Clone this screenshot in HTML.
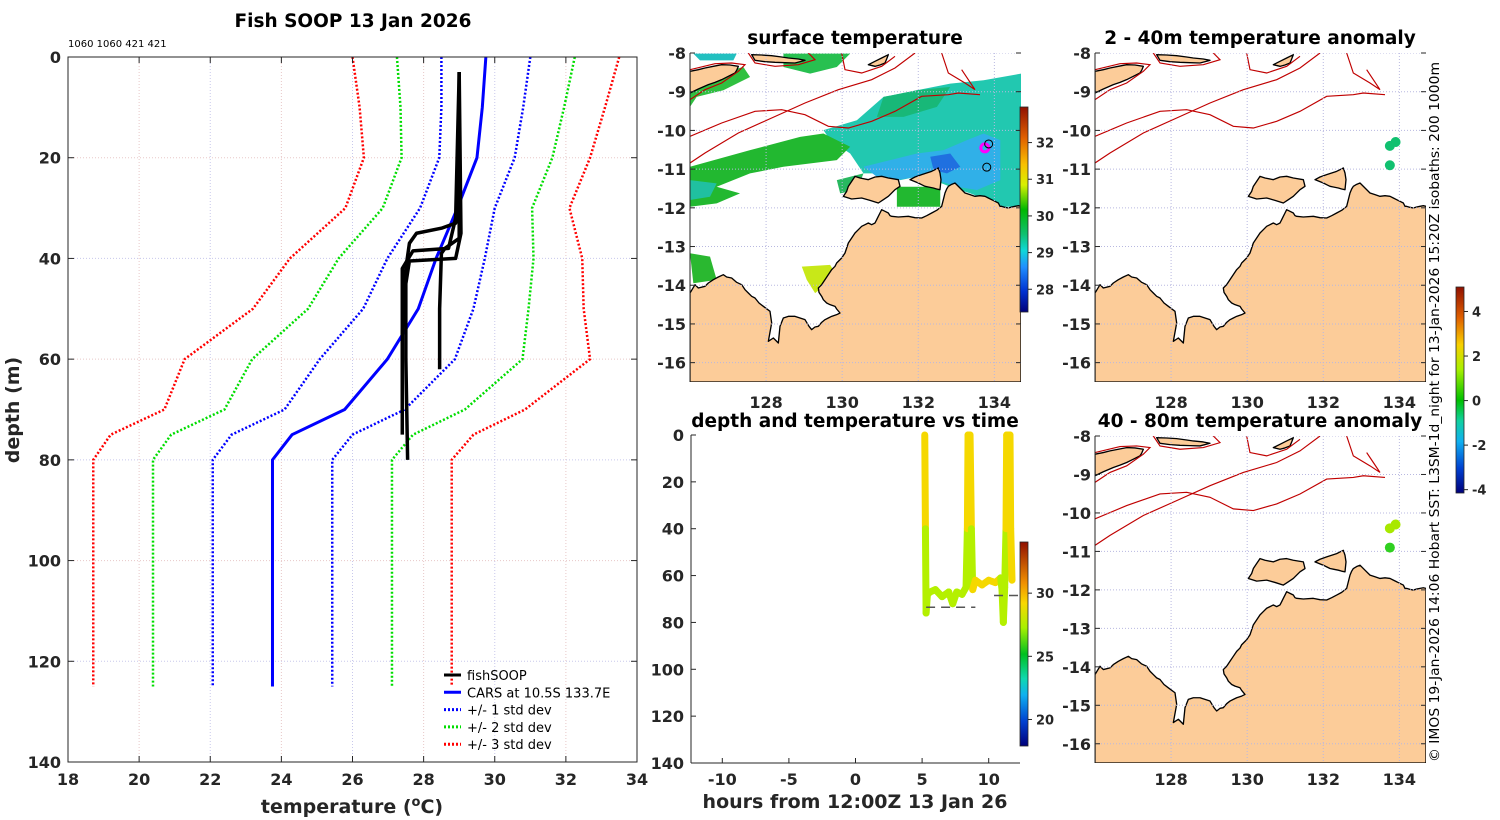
<!DOCTYPE html>
<html><head><meta charset="utf-8">
<style>
html,body{margin:0;padding:0;background:#fff;}
svg{display:block;font-family:"DejaVu Sans","Liberation Sans",sans-serif;}
.t{font-weight:bold;font-size:18.5px;fill:#000;text-anchor:middle;}
.tk{font-weight:bold;font-size:16px;fill:#262626;}
.cb{font-weight:bold;font-size:13px;fill:#262626;}
</style></head>
<body>
<svg id="fig" width="1500" height="820" viewBox="0 0 1500 820" xmlns="http://www.w3.org/2000/svg">
<defs>
<linearGradient id="jetSST" x1="0" y1="1" x2="0" y2="0">
<stop offset="0" stop-color="#00007a"/><stop offset="0.1" stop-color="#0030d0"/><stop offset="0.22" stop-color="#2090ff"/>
<stop offset="0.3" stop-color="#10d8d8"/><stop offset="0.38" stop-color="#10c070"/><stop offset="0.5" stop-color="#00b800"/>
<stop offset="0.62" stop-color="#d8f000"/><stop offset="0.72" stop-color="#f8c000"/><stop offset="0.85" stop-color="#e06000"/><stop offset="1" stop-color="#901000"/>
</linearGradient>
<linearGradient id="jetT" x1="0" y1="1" x2="0" y2="0">
<stop offset="0" stop-color="#00007a"/><stop offset="0.12" stop-color="#0040d0"/><stop offset="0.25" stop-color="#10b0f0"/>
<stop offset="0.33" stop-color="#10d8b0"/><stop offset="0.45" stop-color="#00c020"/><stop offset="0.58" stop-color="#a8f000"/>
<stop offset="0.7" stop-color="#f8d800"/><stop offset="0.8" stop-color="#f09000"/><stop offset="1" stop-color="#901000"/>
</linearGradient>
<linearGradient id="jetA" x1="0" y1="1" x2="0" y2="0">
<stop offset="0" stop-color="#00007a"/><stop offset="0.12" stop-color="#0040d0"/><stop offset="0.25" stop-color="#10b0f0"/>
<stop offset="0.35" stop-color="#10d0a0"/><stop offset="0.45" stop-color="#00c000"/><stop offset="0.6" stop-color="#a8f000"/>
<stop offset="0.72" stop-color="#f8d000"/><stop offset="0.85" stop-color="#e06000"/><stop offset="1" stop-color="#901000"/>
</linearGradient>
</defs>
<g id="root"></g>
</svg>
<script>
// ===== Profile data =====
const carsDepths = [0,10,20,30,40,50,60,70,75,80,125];
const carsMean   = [29.75,29.65,29.5,28.95,28.35,27.85,26.98,25.78,24.3,23.75,23.75];
const carsStd    = [1.25,1.15,1.06,1.05,1.37,1.55,1.9,1.69,1.7,1.68,1.68];
const castATemp = [29.0,29.0,28.9,28.5,27.8,27.6,27.5,27.4,27.4];
const castADep  = [3,30,33,34,35,37,42,55,75];
const castBTemp = [29.0,29.05,28.9,27.6,27.5,27.5,27.55];
const castBDep  = [3,35,40,40.5,45,60,80];
const castCTemp = [29.0,29.0,28.6,28.5,28.45,28.45];
const castCDep  = [3,36,38,39,50,62];
const castDTemp = [29.0,28.9,28.7,27.7,27.4,27.4];
const castDDep  = [3,32,38,38.5,42,70];
const tempTicks = [18,20,22,24,26,28,30,32,34];
const depthTicks = [0,20,40,60,80,100,120,140];
// ===== Time-depth data =====
const tsHours = [5.2,5.25,5.3,5.4,5.6,6.0,6.5,7.0,7.3,7.6,8.0,8.3,8.4,8.45,8.6,8.7,8.8,9.0,9.5,10.0,10.5,10.9,11.0,11.1,11.2,11.3,11.35,11.6,11.65,11.75];
const tsDepth = [0,40,76,68,67,66,69,67,72,67,68,65,40,0,0,40,66,62,64,62,63,61,66,80,65,40,0,0,40,62];
const tsTemp  = [29.6,28.2,28.2,28.2,28.2,28.2,28.2,28.2,28.2,28.2,28.2,28.2,28.2,29.6,29.6,28.2,28.2,29.3,29.3,29.3,29.3,29.3,28.2,28.2,28.2,28.2,29.6,29.6,28.2,29.4];
const hourTicks = [-10,-5,0,5,10];
// ===== Map data =====
const lonTicks = [128,130,132,134];
const latTicks = [-8,-9,-10,-11,-12,-13,-14,-15,-16];
const anomLon1 = [133.75,133.9,133.75];
const anomLat1 = [-10.4,-10.3,-10.9];
const anomVal1 = [-0.6,-0.6,-0.6];
const anomVal2 = [1.0,1.0,0.3];

const NS='http://www.w3.org/2000/svg';
const root=document.getElementById('root');
function el(tag,attrs,parent,txt){const e=document.createElementNS(NS,tag);for(const k in attrs)e.setAttribute(k,attrs[k]);if(txt!==undefined)e.textContent=txt;(parent||root).appendChild(e);return e;}

// ---------- Left profile panel ----------
const PL=68,PR=637,PT=57,PB=762;
const xT=t=>PL+(t-18)/(34-18)*(PR-PL);
const yD=d=>PT+d/140*(PB-PT);
const gP=el('g',{});


tempTicks.forEach((t,i)=>{ if(i>0&&i<tempTicks.length-1){el('line',{x1:xT(t),x2:xT(t),y1:PT,y2:PB,stroke:i%2?'#e8c8c8':'#c8c8ec','stroke-width':1,'stroke-dasharray':'1,2'},gP);}});
depthTicks.forEach((d,i)=>{ if(i>0&&i<depthTicks.length-1){el('line',{x1:PL,x2:PR,y1:yD(d),y2:yD(d),stroke:i%2?'#e8c8c8':'#c8c8ec','stroke-width':1,'stroke-dasharray':'1,2'},gP);}});
const stdCol={1:'#0000ff',2:'#00dd00',3:'#ff0000'};
[3,2,1].forEach(k=>[1,-1].forEach(s=>{
  const p=el('polyline',{points:carsDepths.map((d,i)=>xT(carsMean[i]+s*k*carsStd[i])+','+yD(d)).join(' '),fill:'none',stroke:stdCol[k],'stroke-width':2.5,'stroke-dasharray':'2,2'},gP);
  
  
}));
const mp=el('polyline',{points:carsDepths.map((d,i)=>xT(carsMean[i])+','+yD(d)).join(' '),fill:'none',stroke:'#0000ff','stroke-width':3},gP);


[[castATemp,castADep],[castBTemp,castBDep],[castCTemp,castCDep],[castDTemp,castDDep]].forEach(c=>{
  const p=el('polyline',{points:c[1].map((d,i)=>xT(c[0][i])+','+yD(d)).join(' '),fill:'none',stroke:'#000','stroke-width':3.5,'stroke-linejoin':'round'},gP);
  
  
});
el('rect',{x:PL,y:PT,width:PR-PL,height:PB-PT,fill:'none',stroke:'#262626','stroke-width':1},gP);
tempTicks.forEach(t=>{el('line',{x1:xT(t),x2:xT(t),y1:PB,y2:PB-6,stroke:'#262626'},gP);el('line',{x1:xT(t),x2:xT(t),y1:PT,y2:PT+6,stroke:'#262626'},gP);
  const l=el('text',{x:xT(t),y:785,class:'tk','text-anchor':'middle'},gP,String(t));});
depthTicks.forEach(d=>{el('line',{x1:PL,x2:PL+6,y1:yD(d),y2:yD(d),stroke:'#262626'},gP);el('line',{x1:PR,x2:PR-6,y1:yD(d),y2:yD(d),stroke:'#262626'},gP);
  const l=el('text',{x:61,y:yD(d)+6,class:'tk','text-anchor':'end'},gP,String(d));});
let tt=el('text',{x:353,y:27,class:'t'},gP,'Fish SOOP 13 Jan 2026');
tt=el('text',{x:68,y:47,'font-size':10,fill:'#000'},gP,'1060 1060 421 421');
tt=el('text',{x:352,y:813,class:'tk','text-anchor':'middle',style:'font-size:19px'},gP);tt.innerHTML='temperature (<tspan dy="-7" style="font-size:13px">o</tspan><tspan dy="7">C)</tspan>';

tt=el('text',{x:0,y:0,class:'tk','text-anchor':'middle',transform:'translate(19,410) rotate(-90)',style:'font-size:19px'},gP,'depth (m)');
// legend
const lg=el('g',{},gP);
const legItems=[['fishSOOP','#000',''],['CARS at 10.5S 133.7E','#0000ff',''],['+/- 1 std dev','#0000ff','2,2'],['+/- 2 std dev','#00dd00','2,2'],['+/- 3 std dev','#ff0000','2,2']];
legItems.forEach((it,i)=>{const y=675+i*17.3;
  el('line',{x1:444,x2:461,y1:y,y2:y,stroke:it[1],'stroke-width':3,'stroke-dasharray':it[2]},lg);
  const tx=el('text',{x:467,y:y+5,'font-size':13,fill:'#000'},lg,it[0]);});

// ---------- Maps ----------
const LON0=126.0,LON1=134.7,LAT0=-8,LAT1=-16.5;
const landMain="M105,800 L105,760 120,735 130,745 150,740 160,730 175,720 190,712 205,705 215,712 230,715 245,728 260,735 270,750 280,760 290,770 300,775 312,790 325,800 345,815 350,850 340,905 355,895 370,910 375,860 385,835 400,830 420,830 435,835 450,840 462,860 470,870 480,862 490,860 500,848 510,840 520,835 530,830 545,825 555,820 545,808 540,800 525,795 515,790 505,780 500,770 492,758 490,745 500,735 510,720 520,705 530,690 540,680 545,670 560,655 570,640 575,625 580,610 590,595 600,580 610,570 620,560 630,555 640,550 650,555 660,550 665,540 670,530 675,520 680,510 690,515 700,520 705,528 710,530 730,532 760,530 780,534 800,535 815,528 830,520 845,512 860,500 865,480 870,460 875,448 880,440 890,434 900,430 915,445 930,460 945,465 960,470 975,468 990,470 1000,475 1010,480 1020,485 1030,490 1035,500 1040,500 1050,503 1060,505 1070,502 1080,500 1090,498 1098,500 1098,1027 105,1027 Z";
const landIsl="M565,470 L575,455 580,440 590,425 600,410 615,415 640,420 660,412 680,410 700,415 730,420 735,440 720,450 700,470 685,480 670,490 645,482 620,475 590,478 Z M765,420 L780,412 800,405 815,400 830,395 840,390 850,385 855,400 858,420 855,450 845,448 835,445 820,442 810,440 800,435 790,430 Z";
const landTimor="M105,95 L130,90 150,85 175,80 200,75 225,76 250,80 245,92 240,100 220,110 200,120 180,128 160,135 130,148 105,160 Z M290,45 L320,46 350,48 380,52 400,55 430,58 450,62 420,70 390,69 360,68 330,66 300,62 Z M640,75 L660,65 680,55 700,45 695,58 690,70 675,76 660,80 Z";
const contours=["M105,290 L200,250 300,215 380,210 450,225 520,260 580,265 650,245 720,215 800,170 880,165 910,160 975,165",
 "M105,370 L150,340 250,280 350,235 450,190 550,150 650,120 720,85 780,40",
 "M105,180 L150,150 200,130 250,95 270,75 230,70 180,72 105,90",
 "M560,40 L570,90 620,100 680,80 720,50",
 "M280,40 L300,70 360,80 430,75 480,60 460,40",
 "M860,40 L880,100 930,130 960,150 940,120 920,90"];
function drawMap(name,ox,oy,w,h,xlabY,sst){
  const g=el('g',{});
  const lx=lon=>ox+(lon-LON0)/(LON1-LON0)*w, ly=lat=>oy+(lat-LAT0)/(LAT1-LAT0)*h;
  const clipId='c'+name;const cp=el('clipPath',{id:clipId},g);el('rect',{x:ox,y:oy,width:w,height:h},cp);
  const inner=el('g',{'clip-path':'url(#'+clipId+')'},g);
  if(sst){
    const s=el('g',{transform:`translate(${ox},${oy}) scale(${w/992},${h/989}) translate(-120,-38)`},inner);
    
    
    el('path',{d:"M520,270 L620,240 700,170 800,150 900,130 1000,120 1112,100 1112,500 1060,500 960,460 900,440 850,420 800,410 750,420 700,400 640,400 600,340 540,300 Z",fill:'#22c8b0'},s);
    el('path',{d:"M640,380 L720,360 800,340 880,330 950,300 1000,280 1050,300 1050,420 980,450 920,440 860,420 800,410 740,420 680,410 Z",fill:'#30b0e8'},s);
    el('path',{d:"M840,350 L900,340 930,380 890,400 850,390 Z",fill:'#2070e0'},s);
    el('path',{d:"M700,170 L800,150 900,140 860,200 760,230 680,230 Z",fill:'#18b878'},s);
    el('path',{d:"M120,380 L300,330 450,290 520,280 600,320 560,360 400,380 300,400 200,440 270,460 200,490 120,500 Z",fill:'#22b830'},s);
    el('path',{d:"M120,420 L200,430 180,470 120,480 Z",fill:'#20c0a0'},s);
    el('path',{d:"M120,120 L200,100 280,80 300,110 220,150 140,170 120,200 Z",fill:'#30c040'},s);
    el('path',{d:"M400,40 L600,40 560,80 480,100 400,80 Z",fill:'#28c050'},s);
    el('path',{d:"M130,40 L260,40 250,60 150,60 Z",fill:'#22c0c0'},s);
    el('path',{d:"M740,440 L870,440 870,500 740,500 Z",fill:'#22b830'},s);
    el('path',{d:"M120,640 L180,650 200,720 130,730 Z",fill:'#2ab830'},s);
    el('path',{d:"M455,680 L540,675 555,700 520,740 495,760 470,720 Z",fill:'#c8e818'},s);
    el('path',{d:"M560,420 L640,400 620,450 570,460 Z",fill:'#28b860'},s);
  }
  const lm=el('g',{transform:`translate(${ox},${oy}) scale(${w/993},${h/987}) translate(-105,-40)`},inner);
  
  
  [landMain,landIsl,landTimor].forEach(d=>el('path',{d:d,fill:'#fccc99',stroke:'#000','stroke-width':4,'stroke-linejoin':'round'},lm));
  contours.forEach(d=>el('path',{d:d,fill:'none',stroke:'#c00000','stroke-width':3.5},lm));
  lonTicks.forEach(l=>el('line',{x1:lx(l),x2:lx(l),y1:oy,y2:oy+h,stroke:'#b8b8e0','stroke-width':1,'stroke-dasharray':'1,2'},inner));
  latTicks.forEach(l=>el('line',{x1:ox,x2:ox+w,y1:ly(l),y2:ly(l),stroke:'#b8b8e0','stroke-width':1,'stroke-dasharray':'1,2'},inner));
  el('line',{x1:ox,x2:ox,y1:oy,y2:oy+h,stroke:'#262626'},g);
  latTicks.forEach(l=>{el('line',{x1:ox,x2:ox+5,y1:ly(l),y2:ly(l),stroke:'#262626'},g);el('line',{x1:ox+w,x2:ox+w-5,y1:ly(l),y2:ly(l),stroke:'#262626'},g);
    const t=el('text',{x:ox-4,y:ly(l)+6,class:'tk','text-anchor':'end'},g,String(l));});
  lonTicks.forEach(l=>{const t=el('text',{x:lx(l),y:xlabY,class:'tk','text-anchor':'middle'},g,String(l));});
  return {g,lx,ly};
}
const m1=drawMap('surface-temperature-map',690,53,331,329,408,true);
el('circle',{cx:m1.lx(133.75),cy:m1.ly(-10.45),r:4,fill:'none',stroke:'#ff00ff','stroke-width':3},m1.g);
el('circle',{cx:m1.lx(133.85),cy:m1.ly(-10.35),r:4,fill:'none',stroke:'#000','stroke-width':1},m1.g);
el('circle',{cx:m1.lx(133.8),cy:m1.ly(-10.95),r:4,fill:'none',stroke:'#000','stroke-width':1},m1.g);
tt=el('text',{x:855,y:44,class:'t'},m1.g,'surface temperature');
const m2=drawMap('anomaly-2-40m-map',1095,53,331,329,408,false);
tt=el('text',{x:1260,y:44,class:'t'},m2.g,'2 - 40m temperature anomaly');
const m3=drawMap('anomaly-40-80m-map',1095,436,331,327,785,false);
tt=el('text',{x:1260,y:427,class:'t'},m3.g,'40 - 80m temperature anomaly');
function anomColor(v){return v>0.7?'#a8e800':v>0?'#30d020':v>-1?'#10c070':'#10b0c0';}
anomLon1.forEach((lo,i)=>{
  const a=el('circle',{cx:m2.lx(lo),cy:m2.ly(anomLat1[i]),r:5,fill:anomColor(anomVal1[i])},m2.g);
  
  
  const b=el('circle',{cx:m3.lx(lo),cy:m3.ly(anomLat1[i]),r:5,fill:anomColor(anomVal2[i])},m3.g);
  
  
});

// ---------- Time-depth panel ----------
const TL=691,TR=1020,TT=435,TB=763;
const xH=h=>TL+(h+12.35)/(24.7)*(TR-TL);
const yT=d=>TT+d/140*(TB-TT);
const gt=el('g',{});
function tCol(v){return v>=29?'#f5d800':'#b4f000';}
for(let i=1;i<tsHours.length;i++){
  const col=Math.max(tsDepth[i-1],tsDepth[i])<=40?'#f5d800':tCol(tsTemp[i]);
  const s=el('line',{x1:xH(tsHours[i-1]),y1:yT(tsDepth[i-1]),x2:xH(tsHours[i]),y2:yT(tsDepth[i]),stroke:col,'stroke-width':7,'stroke-linecap':'round'},gt);
  
  
}
el('line',{x1:xH(5.3),x2:xH(9.0),y1:yT(73.5),y2:yT(73.5),stroke:'#555','stroke-width':1.5,'stroke-dasharray':'9,6'},gt);
el('line',{x1:xH(10.4),x2:xH(12.3),y1:yT(68.5),y2:yT(68.5),stroke:'#555','stroke-width':1.5,'stroke-dasharray':'9,6'},gt);
el('line',{x1:TL,x2:TL,y1:TT,y2:TB,stroke:'#262626'},gt);
el('line',{x1:TL,x2:TR,y1:TB,y2:TB,stroke:'#262626'},gt);
hourTicks.forEach(h=>{el('line',{x1:xH(h),x2:xH(h),y1:TB,y2:TB-5,stroke:'#262626'},gt);
  const t=el('text',{x:xH(h),y:785,class:'tk','text-anchor':'middle'},gt,String(h));});
depthTicks.forEach(d=>{el('line',{x1:TL,x2:TL+5,y1:yT(d),y2:yT(d),stroke:'#262626'},gt);
  const t=el('text',{x:684,y:yT(d)+6,class:'tk','text-anchor':'end'},gt,String(d));});
tt=el('text',{x:855,y:427,class:'t'},gt,'depth and temperature vs time');
tt=el('text',{x:855,y:808,class:'tk','text-anchor':'middle',style:'font-size:19px'},gt,'hours from 12:00Z 13 Jan 26');

// ---------- Colorbars ----------
function cbar(name,x,y0,y1,grad,vmin,vmax,ticks){
  const g=el('g',{});
  el('rect',{x:x,y:y0,width:8,height:y1-y0,fill:'url(#'+grad+')',stroke:'#262626','stroke-width':0.8},g);
  ticks.forEach(v=>{const y=y1-(v-vmin)/(vmax-vmin)*(y1-y0);
    el('line',{x1:x+8,x2:x+12,y1:y,y2:y,stroke:'#262626'},g);
    const t=el('text',{x:x+16,y:y+5,class:'cb'},g,String(v));});
}
cbar('sst-colorbar',1020,107,312,'jetSST',27.38,32.97,[28,29,30,31,32]);
cbar('time-temp-colorbar',1020,542,746,'jetT',17.9,34.05,[20,25,30]);
cbar('anomaly-colorbar',1456,287,493,'jetA',-4.15,5.1,[-4,-2,0,2,4]);

tt=el('text',{x:0,y:0,transform:'translate(1439,762) rotate(-90)','font-size':13,fill:'#000',textLength:700,lengthAdjust:'spacingAndGlyphs'},root,'© IMOS 19-Jan-2026 14:06 Hobart SST: L3SM-1d_night for 13-Jan-2026 15:20Z isobaths: 200  1000m');


</script>
</body></html>
